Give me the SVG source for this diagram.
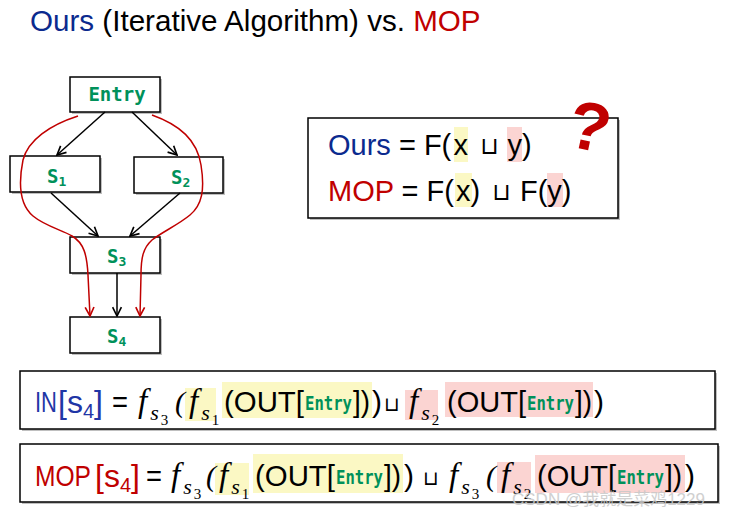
<svg xmlns="http://www.w3.org/2000/svg" width="748" height="519" viewBox="0 0 748 519">
<style>
.box{fill:#fff;stroke:#000;stroke-width:1.5}
.sh{fill:#000;opacity:.25}
.lbl{font-family:"DejaVu Sans Mono","Liberation Mono",monospace;font-weight:bold;fill:#00915A}
.t{font-family:"Liberation Sans",Arial,sans-serif;fill:#000}
.f{font-family:"Liberation Serif","Times New Roman",serif;font-style:italic;fill:#000}
.n{font-style:normal}
.cup{font-family:"DejaVu Sans",sans-serif;fill:#000}
.hy{fill:#FBF8C4}
.hp{fill:#FBD4D2}
.blue{fill:#0B2A8E}
.blue2{fill:#1F36A6}
.red{fill:#C00000}
.edge{fill:none;stroke:#000;stroke-width:1.5}
.redge{fill:none;stroke:#C00000;stroke-width:1.5}
</style>
<defs>
<marker id="ab" viewBox="0 0 10 10" refX="9" refY="5" markerWidth="11" markerHeight="11" orient="auto" markerUnits="userSpaceOnUse"><path d="M1,1 L9,5 L1,9" fill="none" stroke="#000" stroke-width="1.5"/></marker>
<marker id="ar" viewBox="0 0 10 10" refX="9" refY="5" markerWidth="11" markerHeight="11" orient="auto" markerUnits="userSpaceOnUse"><path d="M1,1 L9,5 L1,9" fill="none" stroke="#C00000" stroke-width="1.5"/></marker>
</defs>
<rect width="748" height="519" fill="#fff"/>

<text class="t" x="30" y="31" font-size="29.6"><tspan class="blue">Ours</tspan> (Iterative Algorithm) vs. <tspan class="red">MOP</tspan></text>

<g id="entry">
<rect class="sh" x="72" y="79" width="90" height="35"/>
<rect class="box" x="70" y="77" width="90" height="35"/>
<text class="lbl" x="117" y="101" font-size="19" text-anchor="middle">Entry</text>
</g>
<g id="s1">
<rect class="sh" x="12" y="158" width="90" height="36"/>
<rect class="box" x="10" y="156" width="90" height="36"/>
<text class="lbl" x="47" y="183" font-size="19">S<tspan font-size="13" dy="3">1</tspan></text>
</g>
<g id="s2">
<rect class="sh" x="136" y="159" width="89" height="36"/>
<rect class="box" x="134" y="157" width="89" height="36"/>
<text class="lbl" x="171" y="184" font-size="19">S<tspan font-size="13" dy="3">2</tspan></text>
</g>
<g id="s3">
<rect class="sh" x="72" y="239" width="90" height="36"/>
<rect class="box" x="70" y="237" width="90" height="36"/>
<text class="lbl" x="107" y="263" font-size="19">S<tspan font-size="13" dy="3">3</tspan></text>
</g>
<g id="s4">
<rect class="sh" x="72" y="319" width="90" height="36"/>
<rect class="box" x="70" y="317" width="90" height="36"/>
<text class="lbl" x="107" y="343" font-size="19">S<tspan font-size="13" dy="3">4</tspan></text>
</g>

<g id="connectors">
<line class="edge" x1="105" y1="112" x2="57" y2="155" marker-end="url(#ab)"/>
<line class="edge" x1="132" y1="112" x2="177" y2="155" marker-end="url(#ab)"/>
<line class="edge" x1="51" y1="193" x2="98" y2="236" marker-end="url(#ab)"/>
<line class="edge" x1="180" y1="193" x2="130" y2="236" marker-end="url(#ab)"/>
<line class="edge" x1="117" y1="273" x2="117" y2="316" marker-end="url(#ab)"/>
<path class="redge" d="M78,116 C50,125 28,140 23,160 C18,185 20,205 33,216 C45,226 62,230 72,236 C84,243 87,255 88,275 L90,316" marker-end="url(#ar)"/>
<path class="redge" d="M152,115 C180,125 197,140 201,165 C205,190 202,205 190,215 C178,225 162,232 152,240 C143,248 141,258 141,275 L140,316" marker-end="url(#ar)"/>
</g>

<g id="compare">
<rect class="sh" x="310" y="120" width="310" height="100"/>
<rect class="box" x="308" y="118" width="310" height="100"/>
<rect class="hy" x="454" y="127" width="14" height="35"/>
<rect class="hp" x="507" y="127" width="15" height="35"/>
<rect class="hy" x="455" y="173" width="17" height="34"/>
<rect class="hp" x="547" y="173" width="16" height="34"/>
<text class="t" x="328" y="155" font-size="29"><tspan class="blue">Ours</tspan> = F(<tspan x="453.5">x</tspan></text>
<text class="cup" x="480" y="154" font-size="24">⊔</text>
<text class="t" x="507.5" y="155" font-size="29">y)</text>
<text class="t" x="328" y="201" font-size="29"><tspan class="red">MOP</tspan> = F(<tspan x="456">x</tspan>)</text>
<text class="cup" x="492" y="200" font-size="24">⊔</text>
<text class="t" x="520" y="201" font-size="29">F(y)</text>
<text class="t red" x="590" y="150" font-size="68" font-weight="bold" text-anchor="middle" transform="rotate(12 590 125)">?</text>
</g>

<g id="in-eq">
<rect class="sh" x="22" y="373" width="695" height="58"/>
<rect class="box" x="20" y="371" width="695" height="58"/>
<rect class="hy" x="185" y="388" width="31" height="33"/>
<rect class="hy" x="222" y="382" width="150" height="36"/>
<rect class="hp" x="405" y="390" width="33" height="30"/>
<rect class="hp" x="445" y="382" width="148" height="35"/>
<text class="t blue2" x="35" y="412" font-size="30" textLength="22" lengthAdjust="spacingAndGlyphs">IN</text>
<text class="t blue2" x="58" y="413" font-size="32">[s<tspan font-size="20" dy="5">4</tspan><tspan dy="-5">]</tspan></text>
<text class="t" x="112" y="412" font-size="30" textLength="16" lengthAdjust="spacingAndGlyphs">=</text>
<text class="f" x="138" y="412" font-size="33">f<tspan font-size="22" dx="3" dy="8">s</tspan><tspan class="n" font-size="15" dx="2" dy="5">3</tspan></text>
<text class="f" x="175" y="412" font-size="30">(</text>
<text class="f" x="189" y="412" font-size="33">f<tspan font-size="22" dx="3" dy="8">s</tspan><tspan class="n" font-size="15" dx="2" dy="5">1</tspan></text>
<text class="t" x="224" y="412" font-size="30" textLength="80" lengthAdjust="spacingAndGlyphs">(OUT[</text>
<text class="lbl" x="305" y="410" font-size="19" textLength="47" lengthAdjust="spacingAndGlyphs">Entry</text>
<text class="t" x="353" y="412" font-size="30" textLength="17" lengthAdjust="spacingAndGlyphs">])</text>
<text class="t" x="372" y="412" font-size="30">)</text>
<text class="cup" x="384" y="411" font-size="20">⊔</text>
<text class="f" x="409" y="412" font-size="33">f<tspan font-size="22" dx="3" dy="8">s</tspan><tspan class="n" font-size="15" dx="2" dy="5">2</tspan></text>
<text class="t" x="447" y="412" font-size="30" textLength="79" lengthAdjust="spacingAndGlyphs">(OUT[</text>
<text class="lbl" x="527" y="410" font-size="19" textLength="47" lengthAdjust="spacingAndGlyphs">Entry</text>
<text class="t" x="575" y="412" font-size="30" textLength="17" lengthAdjust="spacingAndGlyphs">])</text>
<text class="t" x="594" y="412" font-size="30">)</text>
</g>

<g id="mop-eq">
<rect class="sh" x="22" y="446" width="698" height="58"/>
<rect class="box" x="20" y="444" width="698" height="58"/>
<rect class="hy" x="215" y="463" width="34" height="32"/>
<rect class="hy" x="253" y="454" width="150" height="39"/>
<rect class="hp" x="497" y="462" width="34" height="31"/>
<rect class="hp" x="535" y="455" width="150" height="38"/>
<text class="t red" x="35" y="486" font-size="30" textLength="56" lengthAdjust="spacingAndGlyphs">MOP</text>
<text class="t red" x="95" y="487" font-size="32">[s<tspan font-size="20" dy="5">4</tspan><tspan dy="-5">]</tspan></text>
<text class="t" x="146" y="486" font-size="30" textLength="16" lengthAdjust="spacingAndGlyphs">=</text>
<text class="f" x="171" y="486" font-size="33">f<tspan font-size="22" dx="3" dy="8">s</tspan><tspan class="n" font-size="15" dx="2" dy="5">3</tspan></text>
<text class="f" x="206" y="486" font-size="30">(</text>
<text class="f" x="219" y="486" font-size="33">f<tspan font-size="22" dx="3" dy="8">s</tspan><tspan class="n" font-size="15" dx="2" dy="5">1</tspan></text>
<text class="t" x="255" y="486" font-size="30" textLength="80" lengthAdjust="spacingAndGlyphs">(OUT[</text>
<text class="lbl" x="336" y="484" font-size="19" textLength="47" lengthAdjust="spacingAndGlyphs">Entry</text>
<text class="t" x="384" y="486" font-size="30" textLength="17" lengthAdjust="spacingAndGlyphs">])</text>
<text class="t" x="404" y="486" font-size="30">)</text>
<text class="cup" x="423" y="485" font-size="20">⊔</text>
<text class="f" x="449" y="486" font-size="33">f<tspan font-size="22" dx="3" dy="8">s</tspan><tspan class="n" font-size="15" dx="2" dy="5">3</tspan></text>
<text class="f" x="486" y="486" font-size="30">(</text>
<text class="f" x="501" y="486" font-size="33">f<tspan font-size="22" dx="3" dy="8">s</tspan><tspan class="n" font-size="15" dx="2" dy="5">2</tspan></text>
<text class="t" x="537" y="486" font-size="30" textLength="79" lengthAdjust="spacingAndGlyphs">(OUT[</text>
<text class="lbl" x="617" y="484" font-size="19" textLength="47" lengthAdjust="spacingAndGlyphs">Entry</text>
<text class="t" x="665" y="486" font-size="30" textLength="17" lengthAdjust="spacingAndGlyphs">])</text>
<text class="t" x="685" y="486" font-size="30">)</text>
</g>

<text x="512" y="505" font-size="17" font-family="'Liberation Sans','Noto Sans CJK SC',sans-serif" fill="#c8c8c8" opacity="0.85">CSDN @我就是菜鸡1229</text>
</svg>
